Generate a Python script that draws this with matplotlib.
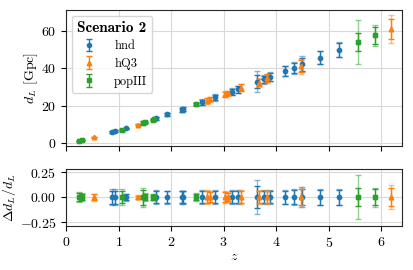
import numpy as np
import matplotlib
matplotlib.use("Agg")
import matplotlib.pyplot as plt
from matplotlib.font_manager import FontProperties

plt.rcParams.update({
    "font.family": "serif",
    "font.serif": ["cmr10"],
    "mathtext.fontset": "cm",
    "axes.formatter.use_mathtext": True,
    "font.size": 10,
    "axes.unicode_minus": True,
})

# hnd (blue circles)
z_hnd = [0.87, 0.93, 1.14, 1.72, 1.93, 2.20, 2.22, 2.59, 2.84, 3.15, 3.27,
         3.64, 3.77, 3.89, 4.17, 4.33, 4.49, 4.83, 5.20]
dl_hnd = [5.9, 6.4, 7.8, 13.2, 15.3, 17.6, 18.3, 21.8, 24.4, 27.4, 28.7,
          32.8, 34.0, 35.5, 38.5, 40.1, 42.0, 45.6, 49.7]
rel_tot_hnd = [0.08, 0.08, 0.035, 0.07, 0.065, 0.065, 0.065, 0.07, 0.07, 0.07, 0.07,
               0.17, 0.07, 0.07, 0.07, 0.08, 0.10, 0.08, 0.08]
rel_in_hnd = [0.065, 0.065, 0.03, 0.06, 0.06, 0.06, 0.06, 0.06, 0.06, 0.06, 0.06,
              0.11, 0.06, 0.06, 0.065, 0.07, 0.08, 0.075, 0.075]

# hQ3 (orange triangles)
z_hq3 = [0.54, 1.36, 2.69, 2.74, 3.03, 3.08, 3.33, 3.67, 3.83, 4.48, 6.19]
dl_hq3 = [3.2, 9.9, 22.6, 23.4, 26.0, 26.5, 29.6, 32.3, 34.6, 41.0, 60.8]
rel_tot_hq3 = [0.037, 0.02, 0.07, 0.06, 0.06, 0.05, 0.07, 0.07, 0.07, 0.10, 0.12]
rel_in_hq3 = [0.03, 0.015, 0.06, 0.05, 0.05, 0.04, 0.06, 0.06, 0.06, 0.08, 0.09]

# popIII (green squares)
z_pop = [0.25, 0.30, 1.06, 1.46, 1.50, 1.65, 1.68, 2.47, 5.56, 5.88]
dl_pop = [1.3, 1.6, 7.1, 10.8, 11.1, 12.4, 12.6, 20.7, 53.8, 57.4]
rel_tot_pop = [0.05, 0.04, 0.08, 0.095, 0.04, 0.03, 0.03, 0.04, 0.22, 0.095]
rel_in_pop = [0.04, 0.03, 0.06, 0.075, 0.03, 0.025, 0.025, 0.03, 0.09, 0.08]

series = [
    ("hnd", "#1f77b4", "o", 3.0, z_hnd, dl_hnd, rel_tot_hnd, rel_in_hnd),
    ("hQ3", "#ff7f0e", "^", 3.2, z_hq3, dl_hq3, rel_tot_hq3, rel_in_hq3),
    ("popIII", "#2ca02c", "s", 3.0, z_pop, dl_pop, rel_tot_pop, rel_in_pop),
]

fig = plt.figure(figsize=(4.13, 2.70), dpi=100)
ax = fig.add_axes([0.160, 0.459, 0.814, 0.504])
axr = fig.add_axes([0.160, 0.163, 0.814, 0.211], sharex=ax)

handles = []
for name, col, mk, ms, z, dl, rtot, rin in series:
    z = np.array(z)
    dl = np.array(dl)
    rtot = np.array(rtot)
    rin = np.array(rin)
    res = (dl - dl) / dl
    kw = dict(fmt=mk, color=col, ms=ms, capsize=2, elinewidth=1, capthick=1)
    ax.errorbar(z, dl, yerr=rtot * dl, alpha=0.5, **kw)
    h = ax.errorbar(z, dl, yerr=rin * dl, label=name, **kw)
    axr.errorbar(z, res, yerr=rtot, alpha=0.5, **kw)
    axr.errorbar(z, res, yerr=rin, **kw)
    handles.append(h)

for a in (ax, axr):
    a.grid(True, color="0.85", lw=0.8)
    a.set_axisbelow(True)
    for s in a.spines.values():
        s.set_color("0.15")

ax.set_xlim(0, 6.4)
ax.set_ylim(-1.6, 71)
ax.set_yticks([0, 20, 40, 60])
ax.tick_params(labelbottom=False)
ax.set_ylabel(r"$d_L$ [Gpc]")
ax.yaxis.set_label_coords(-0.078, 0.5)

axr.set_ylim(-0.287, 0.283)
axr.set_yticks([-0.25, 0.0, 0.25])
axr.set_xticks([0, 1, 2, 3, 4, 5, 6])
axr.set_xlabel(r"$z$", labelpad=1)
axr.set_ylabel(r"$\Delta d_L/d_L$", fontsize=10)
axr.yaxis.set_label_coords(-0.143, 0.5)

leg = ax.legend(handles=handles, loc="upper left", fontsize=9,
                title="Scenario 2", handlelength=2.0, handletextpad=1.0,
                labelspacing=0.45, framealpha=0.8, borderaxespad=0.45)
leg.get_title().set_fontproperties(FontProperties(family="cmb10", size=11))

fig.savefig("out.png", dpi=100)
